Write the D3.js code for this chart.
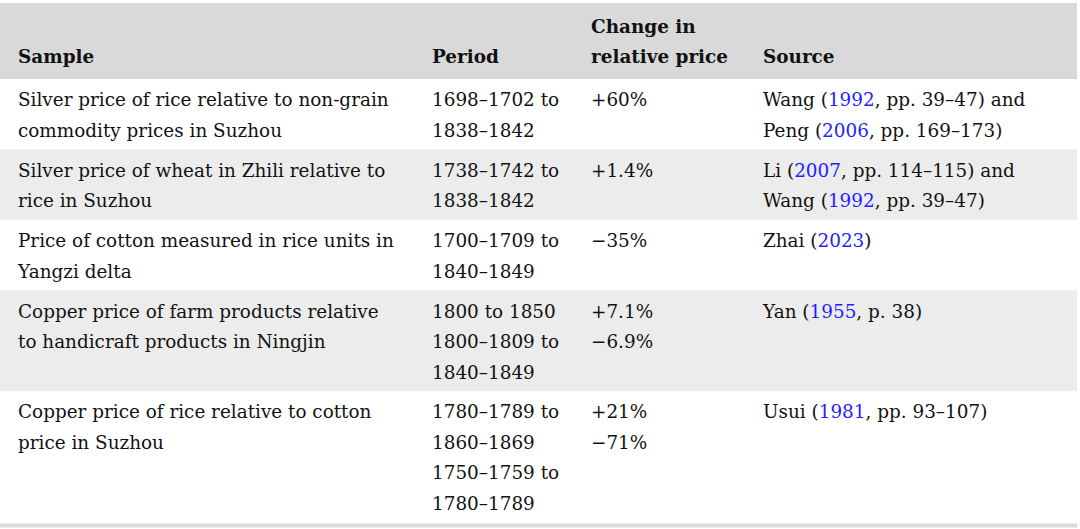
<!DOCTYPE html>
<html>
<head>
<meta charset="utf-8">
<script src="https://cdn.jsdelivr.net/npm/d3@7"></script>
<style>
	html, body { margin: 0; padding: 0; background: #fff; }
	svg { display: block; }
</style>
</head>
<body>
<div id="table"></div>
<script>
// table content, one array per column, one entry (list of lines) per row
const headers = [["Sample"], ["Period"], ["Change in", "relative price"], ["Source"]]

const samples = [
	["Silver price of rice relative to non-grain", "commodity prices in Suzhou"],
	["Silver price of wheat in Zhili relative to", "rice in Suzhou"],
	["Price of cotton measured in rice units in", "Yangzi delta"],
	["Copper price of farm products relative", "to handicraft products in Ningjin"],
	["Copper price of rice relative to cotton", "price in Suzhou"]
]

const periods = [
	["1698–1702 to", "1838–1842"],
	["1738–1742 to", "1838–1842"],
	["1700–1709 to", "1840–1849"],
	["1800 to 1850", "1800–1809 to", "1840–1849"],
	["1780–1789 to", "1860–1869", "1750–1759 to", "1780–1789"]
]

const changes = [
	["+60%"],
	["+1.4%"],
	["−35%"],
	["+7.1%", "−6.9%"],
	["+21%", "−71%"]
]

// years in [brackets] are links
const sources = [
	["Wang ([1992], pp. 39–47) and", "Peng ([2006], pp. 169–173)"],
	["Li ([2007], pp. 114–115) and", "Wang ([1992], pp. 39–47)"],
	["Zhai ([2023])"],
	["Yan ([1955], p. 38)"],
	["Usui ([1981], pp. 93–107)"]
]

const W = 1080, H = 529
const lineH = 30.5, padTop = 21.5, padBottom = 9.4
const tableTop = 3, headerH = 76, tableRight = 1077

const cols = d3.range(headers.length)
const x = d3.scaleOrdinal().domain(cols).range([18, 432, 591, 763])

const rowLines = samples.map((d, i) =>
	d3.max([samples[i], periods[i], changes[i], sources[i]], c => c.length))
const rowH = rowLines.map(n => n * lineH + padBottom)
const rowTop = rowH.map((h, i) => tableTop + headerH + d3.sum(rowH.slice(0, i)))

const svg = d3.select("#table").append("svg")
	.attr("width", W)
	.attr("height", H)
	.style("font-family", "'DejaVu Serif', serif")
	.style("font-size", "18.4px")

// header band
svg.append("rect")
	.attr("x", 0).attr("y", tableTop)
	.attr("width", tableRight).attr("height", headerH)
	.attr("fill", "#d9d9d9")

// row bands
svg.selectAll(".band")
	.data(rowTop)
	.join("rect")
	.attr("class", "band")
	.attr("x", 0)
	.attr("y", d => d)
	.attr("width", tableRight)
	.attr("height", (d, i) => rowH[i])
	.attr("fill", (d, i) => i % 2 ? "#ececec" : "#fff")

// bottom rule
const tableBottom = rowTop[rowTop.length - 1] + rowH[rowH.length - 1]
svg.append("rect")
	.attr("x", 0).attr("y", tableBottom + 1)
	.attr("width", tableRight).attr("height", 4)
	.attr("fill", "#dadada")

// header text, bottom aligned
const headG = svg.append("g").attr("font-weight", "bold")
headers.forEach((lines, c) => {
	lines.forEach((t, k) => {
		headG.append("text")
			.attr("x", x(c))
			.attr("y", tableTop + 54.5 - (lines.length - 1 - k) * lineH)
			.attr("dy", "0.32em")
			.attr("fill", "#111")
			.text(t)
	})
})

// body cells
const body = [samples, periods, changes, sources]
body.forEach((col, c) => {
	col.forEach((lines, r) => {
		lines.forEach((t, k) => {
			const txt = svg.append("text")
				.attr("x", x(c))
				.attr("y", rowTop[r] + padTop + k * lineH)
				.attr("dy", "0.32em")
				.attr("fill", "#111")
			t.split(/(\[[^\]]+\])/).filter(s => s.length).forEach(s => {
				const link = s[0] === "["
				txt.append("tspan")
					.attr("fill", link ? "#1f1fff" : "#111")
					.text(link ? s.slice(1, -1) : s)
			})
		})
	})
})
</script>
</body>
</html>
